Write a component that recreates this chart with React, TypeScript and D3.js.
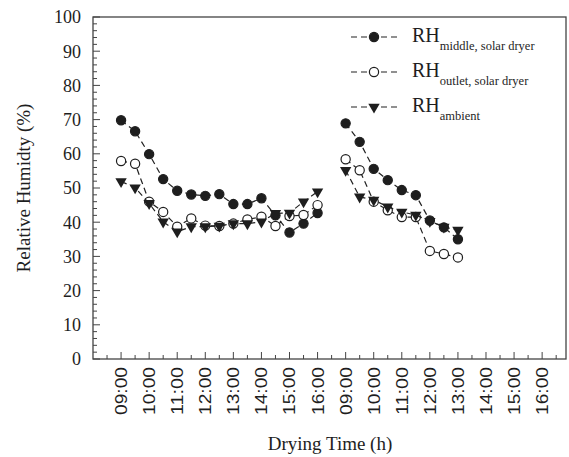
import * as d3 from "d3";

// half-hour slot index: 0 = 09:00 day 1, 16 = 09:00 day 2
const hourLabels = ["09:00", "10:00", "11:00", "12:00", "13:00", "14:00", "15:00", "16:00"];
const day1Slots = [0, 1, 2, 3, 4, 5, 6, 7, 8, 9, 10, 11, 12, 13, 14];
const day2Slots = [16, 17, 18, 19, 20, 21, 22, 23, 24];

const middleDay1 = [69.8, 66.6, 59.9, 52.6, 49.2, 48.1, 47.7, 48.2, 45.3, 45.3, 47.0, 42.0, 37.0, 39.6, 42.7];
const outletDay1 = [57.9, 57.1, 46.0, 43.0, 38.7, 41.1, 39.0, 38.9, 39.6, 40.8, 41.6, 38.9, 41.8, 42.1, 45.0];
const ambientDay1 = [51.9, 50.1, 45.5, 40.1, 37.2, 38.7, 38.7, 38.9, 39.6, 39.6, 40.1, 42.6, 42.7, 46.0, 48.9];

const middleDay2 = [68.9, 63.5, 55.6, 52.3, 49.4, 47.9, 40.5, 38.5, 35.0];
const outletDay2 = [58.4, 55.2, 46.0, 43.5, 41.5, 41.5, 31.6, 30.7, 29.7];
const ambientDay2 = [55.2, 47.4, 46.5, 44.5, 43.0, 42.1, 40.3, 38.6, 37.7];

const W = 569;
const H = 457;
const plot = { left: 93, right: 566, top: 17, bottom: 359 };
const ink = "#1e1e1e";
const serif = "'Liberation Serif', 'Times New Roman', serif";
const sans = "'Liberation Sans', Arial, sans-serif";

type Kind = "filled" | "open" | "tri";

const series: { name: string; sub: string; kind: Kind; parts: number[][] }[] = [
  { name: "RH", sub: "middle, solar dryer", kind: "filled", parts: [middleDay1, middleDay2] },
  { name: "RH", sub: "outlet, solar dryer", kind: "open", parts: [outletDay1, outletDay2] },
  { name: "RH", sub: "ambient", kind: "tri", parts: [ambientDay1, ambientDay2] },
];

function Marker({ kind, cx, cy }: { kind: Kind; cx: number; cy: number }) {
  if (kind === "tri") {
    const p = d3.symbol(d3.symbolTriangle, 56)() as string;
    return <path d={p} transform={`translate(${cx},${cy}) rotate(180)`} fill={ink} />;
  }
  return (
    <circle cx={cx} cy={cy} r={4.6} fill={kind === "filled" ? ink : "#fff"} stroke={ink} strokeWidth={1.2} />
  );
}

export default function App() {
  const x = d3.scaleLinear().domain([-2, 31.7]).range([plot.left, plot.right]);
  const y = d3.scaleLinear().domain([0, 100]).range([plot.bottom, plot.top]);

  const line = d3
    .line<[number, number]>()
    .x((d) => x(d[0]))
    .y((d) => y(d[1]));

  const slotSets = [day1Slots, day2Slots];
  const xMajor = d3.range(0, 31, 2);
  const xMinor = d3.range(-1, 32, 1);
  const yMajor = d3.range(0, 101, 10);
  const yMinor = d3.range(0, 101, 2);
  const xLabels = [...hourLabels, ...hourLabels];

  return (
    <svg width={W} height={H} style={{ position: "absolute", left: 0, top: 0, background: "#fff" }}>
      {/* frame */}
      <rect
        x={plot.left}
        y={plot.top}
        width={plot.right - plot.left}
        height={plot.bottom - plot.top}
        fill="none"
        stroke="#444"
        strokeWidth={1.3}
      />
      {/* y ticks */}
      {yMinor.map((v) => (
        <line key={"ym" + v} x1={plot.left} x2={plot.left + (v % 10 === 0 ? 7 : 4)} y1={y(v)} y2={y(v)} stroke="#444" />
      ))}
      {yMajor.map((v) => (
        <text key={"yl" + v} x={plot.left - 12} y={y(v)} dy="0.35em" textAnchor="end" fontFamily={serif} fontSize={18} fill={ink}>
          {v}
        </text>
      ))}
      {/* x ticks */}
      {xMinor.map((v) => (
        <line key={"xm" + v} x1={x(v)} x2={x(v)} y1={plot.bottom} y2={plot.bottom - (v % 2 === 0 ? 7 : 4)} stroke="#444" />
      ))}
      {xMajor.map((v, i) => (
        <text
          key={"xl" + v}
          transform={`translate(${x(v)},${plot.bottom + 8}) rotate(-90)`}
          dy="0.35em"
          textAnchor="end"
          fontFamily={sans}
          fontSize={17}
          textLength={48}
          lengthAdjust="spacingAndGlyphs"
          fill={ink}
        >
          {xLabels[i]}
        </text>
      ))}
      {/* axis titles */}
      <text x={330} y={450} textAnchor="middle" fontFamily={serif} fontSize={19} fill={ink}>
        Drying Time (h)
      </text>
      <text
        transform={`translate(30,${(plot.top + plot.bottom) / 2}) rotate(-90)`}
        textAnchor="middle"
        fontFamily={serif}
        fontSize={19}
        fill={ink}
      >
        Relative Humidty (%)
      </text>
      {/* series */}
      {series.map((s) => (
        <g key={s.sub}>
          {s.parts.map((vals, pi) => {
            const pts = vals.map((v, i) => [slotSets[pi][i], v] as [number, number]);
            return (
              <g key={pi}>
                <path d={line(pts) as string} fill="none" stroke="#222" strokeWidth={1.2} strokeDasharray="6,4" />
                {pts.map((p, i) => (
                  <Marker key={i} kind={s.kind} cx={x(p[0])} cy={y(p[1])} />
                ))}
              </g>
            );
          })}
        </g>
      ))}
      {/* legend */}
      {series.map((s, i) => {
        const ly = 37 + i * 35;
        return (
          <g key={"lg" + i}>
            <line x1={351} x2={397} y1={ly} y2={ly} stroke="#222" strokeWidth={1.2} strokeDasharray="6,4" />
            <Marker kind={s.kind} cx={374} cy={ly} />
            <text x={412} y={ly + 5} fontFamily={serif} fontSize={20} fill={ink}>
              {s.name}
              <tspan dy={8} fontSize={12.5}>
                {s.sub}
              </tspan>
            </text>
          </g>
        );
      })}
    </svg>
  );
}
